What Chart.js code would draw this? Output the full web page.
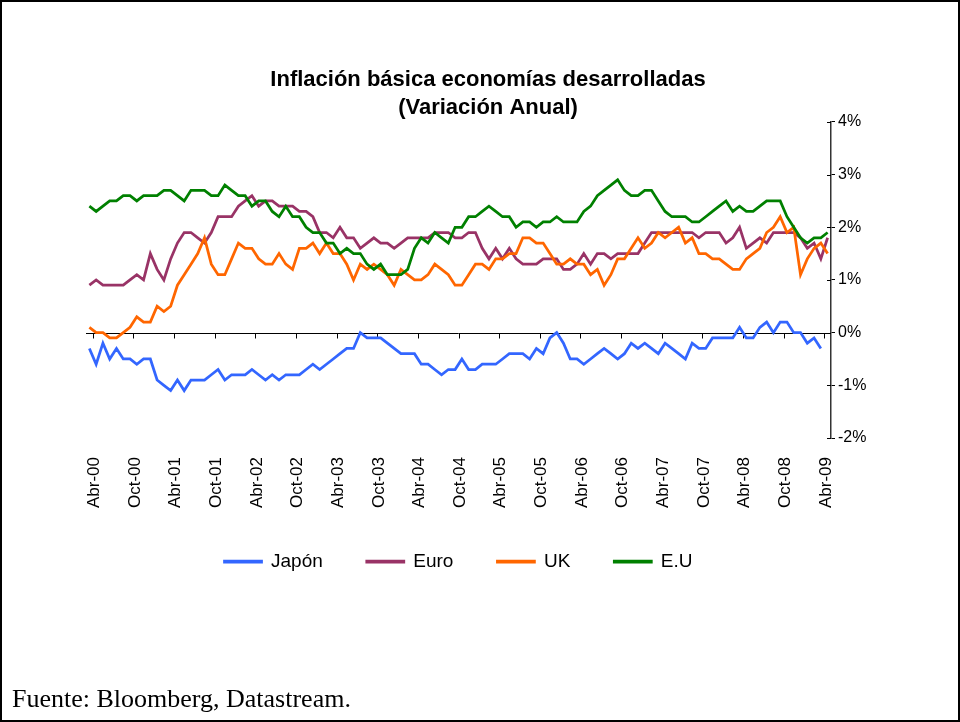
<!DOCTYPE html>
<html>
<head>
<meta charset="utf-8">
<script src="https://cdn.jsdelivr.net/npm/chart.js@4.4.1/dist/chart.umd.min.js"></script>
<style>
  html, body { margin:0; padding:0; background:#fff; }
  #wrap { position:relative; width:960px; height:722px; overflow:hidden; }
  #c { position:absolute; left:0; top:0; }
  #frame { position:absolute; left:0; top:0; width:960px; height:722px; box-sizing:border-box; border:2px solid #000; pointer-events:none; }
  #src { position:absolute; left:12px; top:686px; font:26px/26px "Liberation Serif", "Times New Roman", serif; color:#000; }
</style>
</head>
<body>
<div id="wrap">
  <canvas id="c" width="960" height="722"></canvas>
  <div id="frame"></div>
  <div id="src">Fuente: Bloomberg, Datastream.</div>
</div>
<script>
// meses abr-00 .. may-09, etiqueta cada 6 meses
const meses = ["Ene","Feb","Mar","Abr","May","Jun","Jul","Ago","Sep","Oct","Nov","Dic"];
const categorias = [];
for (let k = 3; k < 113; k++) categorias.push(meses[k % 12] + "-" + String(Math.floor(k / 12)).padStart(2, "0"));

const japon = [-0.3,-0.6,-0.2,-0.5,-0.3,-0.5,-0.5,-0.6,-0.5,-0.5,-0.9,-1.0,-1.1,-0.9,-1.1,-0.9,-0.9,-0.9,-0.8,-0.7,
  -0.9,-0.8,-0.8,-0.8,-0.7,-0.8,-0.9,-0.8,-0.9,-0.8,-0.8,-0.8,-0.7,-0.6,-0.7,-0.6,-0.5,-0.4,-0.3,-0.3,
  0.0,-0.1,-0.1,-0.1,-0.2,-0.3,-0.4,-0.4,-0.4,-0.6,-0.6,-0.7,-0.8,-0.7,-0.7,-0.5,-0.7,-0.7,-0.6,-0.6,
  -0.6,-0.5,-0.4,-0.4,-0.4,-0.5,-0.3,-0.4,-0.1,0.0,-0.2,-0.5,-0.5,-0.6,-0.5,-0.4,-0.3,-0.4,-0.5,-0.4,
  -0.2,-0.3,-0.2,-0.3,-0.4,-0.2,-0.3,-0.4,-0.5,-0.2,-0.3,-0.3,-0.1,-0.1,-0.1,-0.1,0.1,-0.1,-0.1,0.1,
  0.2,0.0,0.2,0.2,0.0,0.0,-0.2,-0.1,-0.3];
const euro = [0.9,1.0,0.9,0.9,0.9,0.9,1.0,1.1,1.0,1.5,1.2,1.0,1.4,1.7,1.9,1.9,1.8,1.7,1.9,2.2,
  2.2,2.2,2.4,2.5,2.6,2.4,2.5,2.5,2.4,2.4,2.4,2.3,2.3,2.2,1.9,1.9,1.8,2.0,1.8,1.8,
  1.6,1.7,1.8,1.7,1.7,1.6,1.7,1.8,1.8,1.8,1.8,1.9,1.9,1.9,1.8,1.8,1.9,1.9,1.6,1.4,
  1.6,1.4,1.6,1.4,1.3,1.3,1.3,1.4,1.4,1.4,1.2,1.2,1.3,1.5,1.3,1.5,1.5,1.4,1.5,1.5,
  1.5,1.5,1.7,1.9,1.9,1.9,1.9,1.9,1.9,1.9,1.8,1.9,1.9,1.9,1.7,1.8,2.0,1.6,1.7,1.8,
  1.7,1.9,1.9,1.9,1.9,1.8,1.6,1.7,1.4,1.8];
const uk = [0.1,0.0,0.0,-0.1,-0.1,0.0,0.1,0.3,0.2,0.2,0.5,0.4,0.5,0.9,1.1,1.3,1.5,1.8,1.3,1.1,
  1.1,1.4,1.7,1.6,1.6,1.4,1.3,1.3,1.5,1.3,1.2,1.6,1.6,1.7,1.5,1.7,1.5,1.5,1.3,1.0,
  1.3,1.2,1.3,1.2,1.1,0.9,1.2,1.1,1.0,1.0,1.1,1.3,1.2,1.1,0.9,0.9,1.1,1.3,1.3,1.2,
  1.4,1.4,1.5,1.5,1.8,1.8,1.7,1.7,1.5,1.3,1.3,1.4,1.3,1.3,1.1,1.2,0.9,1.1,1.4,1.4,
  1.6,1.8,1.6,1.7,1.9,1.8,1.9,2.0,1.7,1.8,1.5,1.5,1.4,1.4,1.3,1.2,1.2,1.4,1.5,1.6,
  1.9,2.0,2.2,1.9,2.0,1.1,1.4,1.6,1.7,1.5];
const eu = [2.4,2.3,2.4,2.5,2.5,2.6,2.6,2.5,2.6,2.6,2.6,2.7,2.7,2.6,2.5,2.7,2.7,2.7,2.6,2.6,
  2.8,2.7,2.6,2.6,2.4,2.5,2.5,2.3,2.2,2.4,2.2,2.2,2.0,1.9,1.9,1.7,1.7,1.5,1.6,1.5,
  1.5,1.3,1.2,1.3,1.1,1.1,1.1,1.2,1.6,1.8,1.7,1.9,1.8,1.7,2.0,2.0,2.2,2.2,2.3,2.4,
  2.3,2.2,2.2,2.0,2.1,2.1,2.0,2.1,2.1,2.2,2.1,2.1,2.1,2.3,2.4,2.6,2.7,2.8,2.9,2.7,
  2.6,2.6,2.7,2.7,2.5,2.3,2.2,2.2,2.2,2.1,2.1,2.2,2.3,2.4,2.5,2.3,2.4,2.3,2.3,2.4,
  2.5,2.5,2.5,2.2,2.0,1.8,1.7,1.8,1.8,1.9];

Chart.defaults.font.family = '"Liberation Sans", Arial, sans-serif';
Chart.defaults.color = "#000";

// eje x cruzando en 0% con marcas cada 6 meses
const ejeCero = {
  id: "ejeCero",
  beforeDatasetsDraw(chart){
    const {ctx, chartArea:a, scales:{x, y}} = chart;
    const y0 = Math.round(y.getPixelForValue(0)) + 0.5;
    const half = (x.getPixelForValue(1) - x.getPixelForValue(0)) / 2;
    ctx.save(); ctx.strokeStyle = "#000"; ctx.lineWidth = 1;
    ctx.beginPath(); ctx.moveTo(a.left, y0); ctx.lineTo(a.right, y0);
    categorias.forEach((c, i) => { if (i % 6) return;
      const px = Math.round(x.getPixelForValue(i) + half) + 0.5; ctx.moveTo(px, y0); ctx.lineTo(px, y0 + 5); });
    y.ticks.forEach(t => { const py = Math.round(y.getPixelForValue(t.value)) + 0.5; ctx.moveTo(a.right - 4, py); ctx.lineTo(a.right, py); });
    ctx.stroke(); ctx.restore();
  }
};

const serie = (label, data, color) => ({ label, data, borderColor:color, backgroundColor:color,
  borderWidth:2.75, pointRadius:0, tension:0, fill:false });

new Chart(document.getElementById("c"), {
  type: "line",
  data: { labels: categorias,
    // orden inverso: E.U queda encima como en Excel
    datasets: [ serie("E.U", eu, "#008000"), serie("UK", uk, "#FF6600"), serie("Euro", euro, "#993366"), serie("Japón", japon, "#3366FF") ] },
  options: {
    responsive:false, animation:false, devicePixelRatio:1,
    layout: { padding: { left:86, right:70, top:0, bottom:141 } },
    plugins: {
      title: { display:true, text:["Inflación básica economías desarrolladas","(Variación Anual)"],
        font:{ size:22, weight:"bold", lineHeight:1.27 }, padding:{ top:66, bottom:0 }, color:"#000" },
      legend: { position:"bottom", fullSize:false, reverse:true,
        labels:{ boxWidth:37, boxHeight:1, padding:44, font:{ size:19 }, color:"#000" } },
      tooltip: { enabled:false }
    },
    scales: {
      x: { type:"category", offset:true,
        grid:{ display:false, drawTicks:false }, border:{ display:false },
        ticks:{ autoSkip:false, minRotation:90, maxRotation:90, padding:19, labelOffset:5, font:{ size:17 },
          callback:(v, i) => i % 6 === 0 ? categorias[i] : "" },
        afterFit: s => { s.height = 70; } },
      y: { position:"right", min:-2, max:4,
        ticks:{ stepSize:1, padding:3, font:{ size:16 }, callback:v => v + "%" },
        grid:{ drawOnChartArea:false, tickLength:4, tickColor:"#000" },
        border:{ color:"#333", width:1.5 },
        afterFit: s => { s.width = 59; } }
    }
  },
  plugins: [ejeCero]
});
</script>
</body>
</html>
